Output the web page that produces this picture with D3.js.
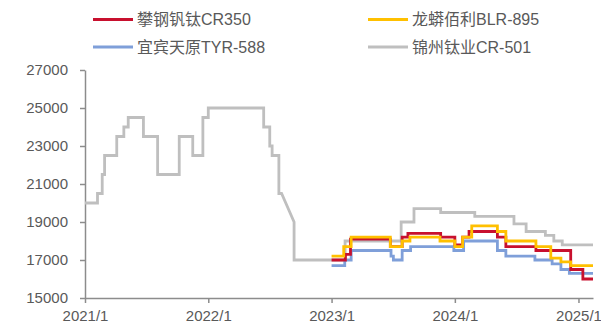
<!DOCTYPE html>
<html><head><meta charset="utf-8">
<script src="https://cdn.jsdelivr.net/npm/d3@7"></script>
<style>
body{margin:0;background:#fff;}
svg text{font-family:"Liberation Sans","Noto Sans CJK SC",sans-serif;fill:#595959;}
</style></head>
<body><svg id="c" width="601" height="323"></svg>
<script>
const seriesNames = ["攀钢钒钛CR350","龙蟒佰利BLR-895","宜宾天原TYR-588","锦州钛业CR-501"];
const seriesColors = ["#C8102E","#FFC000","#7F9FD9","#BFBFBF"];
const yTicks = [15000,17000,19000,21000,23000,25000,27000];
const xTickLabels = ["2021/1","2022/1","2023/1","2024/1","2025/1"];

// 锦州钛业CR-501 (vertices)
const greyData = [
 ["2021-01-01",20000],["2021-02-07",20000],["2021-02-07",20500],["2021-02-21",20500],["2021-02-21",21500],
 ["2021-02-28",21500],["2021-02-28",22500],["2021-04-05",22500],["2021-04-05",23500],["2021-04-26",23500],
 ["2021-04-26",24000],["2021-05-09",24000],["2021-05-09",24500],["2021-06-23",24500],["2021-06-23",23500],
 ["2021-08-04",23500],["2021-08-04",21500],["2021-10-07",21500],["2021-10-07",23500],["2021-11-16",23500],
 ["2021-11-16",22500],["2021-12-16",22500],["2021-12-16",24500],["2022-01-01",24500],["2022-01-01",25000],
 ["2022-06-14",25000],["2022-06-14",24000],["2022-07-02",24000],["2022-07-02",23000],["2022-07-09",23000],
 ["2022-07-09",22500],["2022-07-29",22500],["2022-07-29",20500],["2022-08-06",20500],["2022-09-12",19000],
 ["2022-09-12",17000],["2023-02-10",17000],["2023-02-10",18000],["2023-07-26",18000],["2023-07-26",19000],
 ["2023-09-02",19000],["2023-09-02",19700],["2023-11-20",19700],["2023-11-20",19500],["2024-02-29",19500],
 ["2024-02-29",19300],["2024-06-24",19300],["2024-06-24",18900],["2024-07-30",18900],["2024-07-30",18500],
 ["2024-09-25",18500],["2024-09-25",18300],["2024-10-20",18300],["2024-10-20",18000],["2024-11-14",18000],
 ["2024-11-14",17800],["2025-02-13",17800]
];
// step series: [date of change, new value]
const redData = [
 ["2023-01-01",17000],["2023-02-11",17300],["2023-02-26",18100],["2023-06-24",17700],["2023-07-29",18200],
 ["2023-08-15",18400],["2023-11-20",18200],["2024-01-01",17800],["2024-01-24",18200],["2024-02-12",18500],
 ["2024-05-06",18200],["2024-05-31",17700],["2024-08-28",17500],["2024-12-09",16500],["2025-01-14",16000],
 ["2025-02-13",16000]
];
const yellowData = [
 ["2023-01-01",17200],["2023-02-06",17700],["2023-02-28",18200],["2023-06-24",17700],["2023-07-29",18000],
 ["2023-08-21",18200],["2023-11-18",18000],["2024-01-01",17700],["2024-01-24",18200],["2024-02-20",18800],
 ["2024-05-06",18500],["2024-05-31",18000],["2024-08-28",17700],["2024-10-11",17100],["2024-11-10",16900],
 ["2024-12-09",16700],["2025-02-13",16700]
];
const blueData = [
 ["2023-01-01",16700],["2023-02-09",17000],["2023-02-28",17500],["2023-06-26",17200],["2023-07-03",17000],
 ["2023-07-29",17500],["2023-08-23",17700],["2023-12-29",17500],["2024-01-27",18000],["2024-05-06",17500],
 ["2024-05-31",17200],["2024-08-25",17000],["2024-10-15",16800],["2024-11-10",16500],["2024-12-05",16300],
 ["2025-02-13",16300]
];

const parse = d3.timeParse("%Y-%m-%d");
const svg = d3.select("#c");
const x = d3.scaleTime().domain([parse("2021-01-01"), parse("2025-02-13")]).range([85, 593]);
const y = d3.scaleLinear().domain([15000, 27000]).range([298, 70]);

const axisColor = "#8c8c8c";
const yAxis = svg.append("g").attr("transform","translate(85,0)")
  .call(d3.axisLeft(y).tickValues(yTicks).tickSize(5).tickSizeOuter(0).tickPadding(12).tickFormat(d3.format("d")));
const xTickDates = xTickLabels.map(s => d3.timeParse("%Y/%m")(s));
const xAxis = svg.append("g").attr("transform","translate(0,298)")
  .call(d3.axisBottom(x).tickValues(xTickDates).tickSize(5).tickSizeOuter(0).tickPadding(7)
    .tickFormat((d,i)=>xTickLabels[i]));
[yAxis, xAxis].forEach(g=>{
  g.selectAll("path,line").attr("stroke",axisColor).attr("stroke-width",1.5);
  g.selectAll("text").attr("font-size",15).attr("fill","#595959")
   .attr("font-family",'"Liberation Sans",sans-serif');
});

const lineLin = d3.line().x(d=>x(parse(d[0]))).y(d=>y(d[1]));
const lineStep = d3.line().x(d=>x(parse(d[0]))).y(d=>y(d[1])).curve(d3.curveStepAfter);

const draw = (data, gen, color) => svg.append("path").datum(data).attr("d", gen)
  .attr("fill","none").attr("stroke",color).attr("stroke-width",2.8).attr("stroke-linejoin","miter");
draw(greyData, lineLin, seriesColors[3]);
draw(blueData, lineStep, seriesColors[2]);
draw(redData, lineStep, seriesColors[0]);
draw(yellowData, lineStep, seriesColors[1]);

// legend
const legendPos = [[93,19.5],[368,19.5],[93,47],[368,47]];
seriesNames.forEach((n,i)=>{
  const [lx,ly] = legendPos[i];
  svg.append("line").attr("x1",lx).attr("x2",lx+40).attr("y1",ly).attr("y2",ly)
    .attr("stroke",seriesColors[i]).attr("stroke-width",3);
  svg.append("text").attr("x",lx+44).attr("y",ly).attr("dy","0.35em").attr("font-size",16).text(n);
});
</script></body></html>
